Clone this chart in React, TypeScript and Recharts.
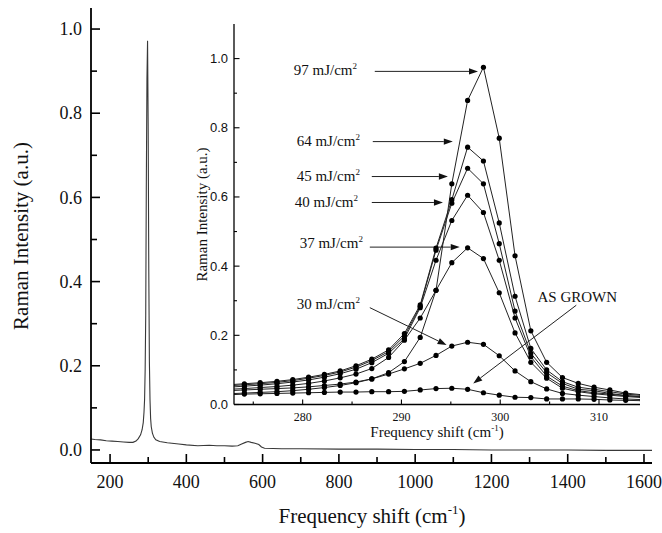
import React from 'react';
import { LineChart, Line, XAxis, YAxis, ReferenceLine, ReferenceDot } from 'recharts';

const SERIF = '"Liberation Serif", "Times New Roman", serif';
const SANS = '"Liberation Sans", Arial, sans-serif';
const INK = '#111';

// ---------- main spectrum ----------
const mainShift = [150, 160, 175, 190, 205, 220, 235, 250, 260, 268, 274, 280, 284, 287, 289, 290.5, 292, 293.5, 295, 296.7, 298.3, 299.9, 301.5, 303.1, 304.7, 306.3, 308, 311, 315, 320, 330, 350, 380, 400, 430, 460, 480, 500, 520, 535, 545, 555, 562, 570, 580, 590, 597, 605, 650, 700, 800, 900, 1000, 1100, 1200, 1300, 1400, 1500, 1621];
const mainIntensity = [0.026, 0.025, 0.024, 0.022, 0.021, 0.020, 0.019, 0.018, 0.018, 0.021, 0.027, 0.036, 0.048, 0.065, 0.090, 0.120, 0.190, 0.320, 0.620, 0.880, 0.972, 0.770, 0.430, 0.210, 0.120, 0.075, 0.055, 0.040, 0.030, 0.024, 0.020, 0.017, 0.014, 0.012, 0.010, 0.011, 0.010, 0.010, 0.009, 0.010, 0.014, 0.018, 0.020, 0.018, 0.016, 0.013, 0.007, 0.004, 0.003, 0.003, 0.002, 0.002, 0.001, 0.001, 0.000, 0.000, 0.000, -0.001, -0.001];
const mainXTicks = [200, 300, 400, 500, 600, 700, 800, 900, 1000, 1100, 1200, 1300, 1400, 1500, 1600];
const mainXMajor = [200, 400, 600, 800, 1000, 1200, 1400, 1600];
const mainYTicks = [0, 0.1, 0.2, 0.3, 0.4, 0.5, 0.6, 0.7, 0.8, 0.9, 1.0];
const mainYMajor = [0, 0.2, 0.4, 0.6, 0.8, 1.0];

// ---------- inset ----------
const insetShift = [272.5, 274.1, 275.7, 277.4, 279.0, 280.6, 282.2, 283.8, 285.4, 287.0, 288.7, 290.3, 291.9, 293.5, 295.1, 296.7, 298.3, 299.9, 301.5, 303.1, 304.7, 306.3, 307.9, 309.5, 311.1, 312.7, 314.4];
const fluence97 = [0.031, 0.033, 0.035, 0.037, 0.040, 0.044, 0.049, 0.055, 0.063, 0.074, 0.092, 0.124, 0.194, 0.330, 0.638, 0.879, 0.975, 0.770, 0.430, 0.213, 0.122, 0.078, 0.061, 0.050, 0.042, 0.033, 0.028];
const fluence64 = [0.057, 0.060, 0.063, 0.067, 0.072, 0.079, 0.087, 0.097, 0.112, 0.131, 0.158, 0.205, 0.288, 0.452, 0.592, 0.744, 0.704, 0.525, 0.313, 0.162, 0.100, 0.066, 0.050, 0.044, 0.037, 0.030, 0.026];
const fluence45 = [0.054, 0.057, 0.060, 0.064, 0.069, 0.076, 0.084, 0.094, 0.108, 0.127, 0.153, 0.198, 0.284, 0.446, 0.582, 0.683, 0.638, 0.465, 0.270, 0.148, 0.092, 0.061, 0.044, 0.040, 0.032, 0.026, 0.023];
const fluence40 = [0.050, 0.053, 0.056, 0.060, 0.065, 0.071, 0.079, 0.089, 0.102, 0.121, 0.148, 0.190, 0.280, 0.417, 0.532, 0.605, 0.555, 0.417, 0.250, 0.138, 0.082, 0.053, 0.040, 0.034, 0.030, 0.025, 0.022];
const fluence37 = [0.044, 0.046, 0.049, 0.052, 0.056, 0.061, 0.068, 0.077, 0.088, 0.104, 0.136, 0.186, 0.250, 0.330, 0.410, 0.453, 0.422, 0.323, 0.207, 0.122, 0.076, 0.047, 0.037, 0.031, 0.027, 0.023, 0.020];
const fluence30 = [0.040, 0.042, 0.044, 0.046, 0.048, 0.051, 0.055, 0.059, 0.065, 0.074, 0.088, 0.103, 0.119, 0.142, 0.169, 0.180, 0.174, 0.141, 0.097, 0.066, 0.045, 0.032, 0.027, 0.023, 0.019, 0.016, 0.014];
const asGrown = [0.028, 0.030, 0.031, 0.032, 0.033, 0.034, 0.035, 0.036, 0.036, 0.037, 0.037, 0.038, 0.042, 0.046, 0.047, 0.044, 0.034, 0.027, 0.021, 0.020, 0.016, 0.016, 0.016, 0.015, 0.013, 0.012, 0.011];
const insetSeriesKeys = ['f97', 'f64', 'f45', 'f40', 'f37', 'f30', 'asGrown'];
const insetXTicks = [275, 280, 285, 290, 295, 300, 305, 310];
const insetXMajor = [280, 290, 300, 310];
const insetYTicks = [0, 0.1, 0.2, 0.3, 0.4, 0.5, 0.6, 0.7, 0.8, 0.9, 1.0];
const insetYMajor = [0, 0.2, 0.4, 0.6, 0.8, 1.0];

// ---------- annotations (inset data coordinates) ----------
const annotationText = ['97 mJ/cm', '64 mJ/cm', '45 mJ/cm', '40 mJ/cm', '37 mJ/cm', '30 mJ/cm', 'AS GROWN'];
const annotationSup = ['2', '2', '2', '2', '2', '2', ''];
const annotationAnchor = ['end', 'end', 'end', 'end', 'end', 'end', 'middle'];
const annotationTextX = [285.5, 285.8, 285.8, 285.6, 286.1, 285.8, 307.8];
const annotationTextY = [0.968, 0.763, 0.660, 0.585, 0.467, 0.292, 0.311];
const arrowStartX = [287.3, 287.1, 287.0, 287.0, 286.8, 286.8, 307.7];
const arrowStartY = [0.963, 0.760, 0.659, 0.584, 0.455, 0.280, 0.287];
const arrowEndX = [297.75, 295.2, 294.7, 294.2, 295.9, 294.57, 297.27];
const arrowEndY = [0.963, 0.760, 0.659, 0.584, 0.455, 0.172, 0.061];

const mainData = mainShift.map((s, i) => ({ shift: s, intensity: mainIntensity[i] }));
const insetData = insetShift.map((s, i) => ({
  shift: s,
  f97: fluence97[i],
  f64: fluence64[i],
  f45: fluence45[i],
  f40: fluence40[i],
  f37: fluence37[i],
  f30: fluence30[i],
  asGrown: asGrown[i],
}));

const isIn = (arr: number[], v: number) => arr.some((m) => Math.abs(m - v) < 1e-9);

type Side = 'bottom' | 'top' | 'left' | 'right';
function makeTick(
  side: Side,
  majors: number[],
  majorLen: number,
  minorLen: number,
  lw: number,
  label?: { size: number; family: string; gap: number; fmt: (v: number) => string }
) {
  return (props: any) => {
    const { x, y, payload } = props;
    const v = payload.value;
    const major = isIn(majors, v);
    const len = major ? majorLen : minorLen;
    let x2 = x;
    let y2 = y;
    if (side === 'bottom') y2 = y - len;
    else if (side === 'top') y2 = y + len;
    else if (side === 'left') x2 = x + len;
    else x2 = x - len;
    let txt = null;
    if (major && label) {
      if (side === 'bottom') {
        txt = (
          <text x={x} y={y + label.gap} textAnchor="middle" fontFamily={label.family} fontSize={label.size} fill={INK}>
            {label.fmt(v)}
          </text>
        );
      } else if (side === 'left') {
        txt = (
          <text x={x - label.gap} y={y} dy="0.34em" textAnchor="end" fontFamily={label.family} fontSize={label.size} fill={INK}>
            {label.fmt(v)}
          </text>
        );
      }
    }
    return (
      <g>
        <line x1={x} y1={y} x2={x2} y2={y2} stroke="#000" strokeWidth={lw} />
        {txt}
      </g>
    );
  };
}

const mainBottomTick = makeTick('bottom', mainXMajor, 9, 6, 1.6, { size: 18, family: SERIF, gap: 24.5, fmt: (v) => String(v) });
const mainTopTick = makeTick('top', mainXMajor, 9, 6, 1.6);
const mainLeftTick = makeTick('left', mainYMajor, 9, 6, 1.6, { size: 18, family: SERIF, gap: 9, fmt: (v) => v.toFixed(1) });
const mainRightTick = makeTick('right', mainYMajor, 9, 6, 1.6);

const insetBottomTick = makeTick('bottom', insetXMajor, 5, 3, 1.1, { size: 12, family: SERIF, gap: 16.5, fmt: (v) => String(v) });
const insetTopTick = makeTick('top', insetXMajor, 4, 3, 1.1);
const insetLeftTick = makeTick('left', insetYMajor, 5.5, 3, 1.1, { size: 13, family: SANS, gap: 6, fmt: (v) => v.toFixed(1) });

const ArrowShape = (p: any) => {
  const x1 = Number(p.x1);
  const y1 = Number(p.y1);
  const x2 = Number(p.x2);
  const y2 = Number(p.y2);
  const ang = Math.atan2(y2 - y1, x2 - x1);
  const L = 9;
  const hw = 3.2;
  const bx = x2 - L * Math.cos(ang);
  const by = y2 - L * Math.sin(ang);
  const px = -Math.sin(ang) * hw;
  const py = Math.cos(ang) * hw;
  return (
    <g>
      <line x1={x1} y1={y1} x2={bx} y2={by} stroke="#222" strokeWidth={1} />
      <polygon points={`${x2},${y2} ${bx + px},${by + py} ${bx - px},${by - py}`} fill="#111" />
    </g>
  );
};

const makeLabelShape = (text: string, sup: string, anchor: string) => (p: any) => (
  <text x={p.cx} y={p.cy} dy="0.35em" textAnchor={anchor as any} fontFamily={SERIF} fontSize={15} fill={INK}>
    {text}
    {sup ? (
      <tspan dy={-6} fontSize={9}>
        {sup}
      </tspan>
    ) : null}
  </text>
);

const W = 662;
const H = 533;

export default function App() {
  return (
    <div style={{ position: 'absolute', left: 0, top: 0, width: W, height: H, background: '#fff' }}>
      <div style={{ position: 'absolute', left: 0, top: 0 }}>
        <LineChart width={W} height={H} data={mainData} margin={{ top: 8, right: 10, bottom: 0, left: 0 }}>
          <XAxis
            xAxisId="b"
            dataKey="shift"
            type="number"
            domain={[150, 1621]}
            allowDataOverflow
            ticks={mainXTicks}
            interval={0}
            tickLine={false}
            tickSize={0}
            tickMargin={0}
            tick={mainBottomTick}
            height={70}
            axisLine={{ stroke: '#000', strokeWidth: 1.8 }}
          />
          <XAxis
            xAxisId="t"
            orientation="top"
            type="number"
            domain={[150, 1621]}
            allowDataOverflow
            ticks={mainXTicks}
            interval={0}
            tickLine={false}
            tickSize={0}
            tickMargin={0}
            tick={mainTopTick}
            height={0}
            axisLine={{ stroke: '#000', strokeWidth: 1.8 }}
          />
          <YAxis
            yAxisId="l"
            type="number"
            domain={[-0.031, 1.05]}
            allowDataOverflow
            ticks={mainYTicks}
            interval={0}
            tickLine={false}
            tickSize={0}
            tickMargin={0}
            tick={mainLeftTick}
            width={91}
            axisLine={{ stroke: '#000', strokeWidth: 1.8 }}
          />
          <YAxis
            yAxisId="r"
            orientation="right"
            type="number"
            domain={[-0.031, 1.05]}
            allowDataOverflow
            ticks={mainYTicks}
            interval={0}
            tickLine={false}
            tickSize={0}
            tickMargin={0}
            tick={mainRightTick}
            width={0}
            axisLine={{ stroke: '#000', strokeWidth: 1.8 }}
          />
          <Line
            xAxisId="b"
            yAxisId="l"
            type="linear"
            dataKey="intensity"
            stroke="#383838"
            strokeWidth={1.1}
            dot={false}
            activeDot={false}
            isAnimationActive={false}
          />
          <text x={372} y={523} textAnchor="middle" fontFamily={SERIF} fontSize={21} fill={INK}>
            Frequency shift (cm
            <tspan dy={-9} fontSize={13}>
              -1
            </tspan>
            <tspan dy={9}>)</tspan>
          </text>
          <text transform="translate(28, 236) rotate(-90)" textAnchor="middle" fontFamily={SERIF} fontSize={21} fill={INK}>
            Raman Intensity (a.u.)
          </text>
        </LineChart>
      </div>
      <div style={{ position: 'absolute', left: 0, top: 0 }}>
        <LineChart width={W} height={H} data={insetData} margin={{ top: 24, right: 22, bottom: 0, left: 0 }}>
          <XAxis
            dataKey="shift"
            type="number"
            domain={[273.05, 314.15]}
            allowDataOverflow
            ticks={insetXTicks}
            interval={0}
            tickLine={false}
            tickSize={0}
            tickMargin={0}
            tick={insetBottomTick}
            height={128.5}
            axisLine={{ stroke: '#000', strokeWidth: 1.3 }}
          />
          <XAxis
            xAxisId="t"
            orientation="top"
            type="number"
            domain={[273.05, 314.15]}
            allowDataOverflow
            ticks={insetXTicks}
            interval={0}
            tickLine={false}
            tickSize={0}
            tickMargin={0}
            tick={insetTopTick}
            height={0}
            axisLine={{ stroke: '#000', strokeWidth: 1.3 }}
          />
          <YAxis
            type="number"
            domain={[0, 1.1]}
            allowDataOverflow
            ticks={insetYTicks}
            interval={0}
            tickLine={false}
            tickSize={0}
            tickMargin={0}
            tick={insetLeftTick}
            width={234}
            axisLine={{ stroke: '#000', strokeWidth: 1.3 }}
          />
          <YAxis
            yAxisId="r"
            orientation="right"
            type="number"
            domain={[0, 1.1]}
            allowDataOverflow
            ticks={[]}
            tick={false}
            tickLine={false}
            width={0}
            axisLine={{ stroke: '#000', strokeWidth: 1.3 }}
          />
          {insetSeriesKeys.map((k) => (
            <Line
              key={k}
              type="linear"
              dataKey={k}
              stroke="#222"
              strokeWidth={1}
              dot={{ r: 2.6, fill: '#000', stroke: '#000', strokeWidth: 0 }}
              activeDot={false}
              isAnimationActive={false}
            />
          ))}
          {annotationText.map((t, i) => (
            <ReferenceLine
              key={'a' + i}
              segment={[
                { x: arrowStartX[i], y: arrowStartY[i] },
                { x: arrowEndX[i], y: arrowEndY[i] },
              ]}
              ifOverflow="visible"
              shape={ArrowShape}
            />
          ))}
          {annotationText.map((t, i) => (
            <ReferenceDot
              key={'t' + i}
              x={annotationTextX[i]}
              y={annotationTextY[i]}
              r={0}
              ifOverflow="visible"
              shape={makeLabelShape(t, annotationSup[i], annotationAnchor[i])}
            />
          ))}
          <text x={437} y={436.5} textAnchor="middle" fontFamily={SERIF} fontSize={15} fill={INK}>
            Frequency shift (cm
            <tspan dy={-6} fontSize={9}>
              -1
            </tspan>
            <tspan dy={6}>)</tspan>
          </text>
          <text transform="translate(206.5, 214.5) rotate(-90)" textAnchor="middle" fontFamily={SERIF} fontSize={15} fill={INK}>
            Raman Intensity (a.u.)
          </text>
        </LineChart>
      </div>
    </div>
  );
}
